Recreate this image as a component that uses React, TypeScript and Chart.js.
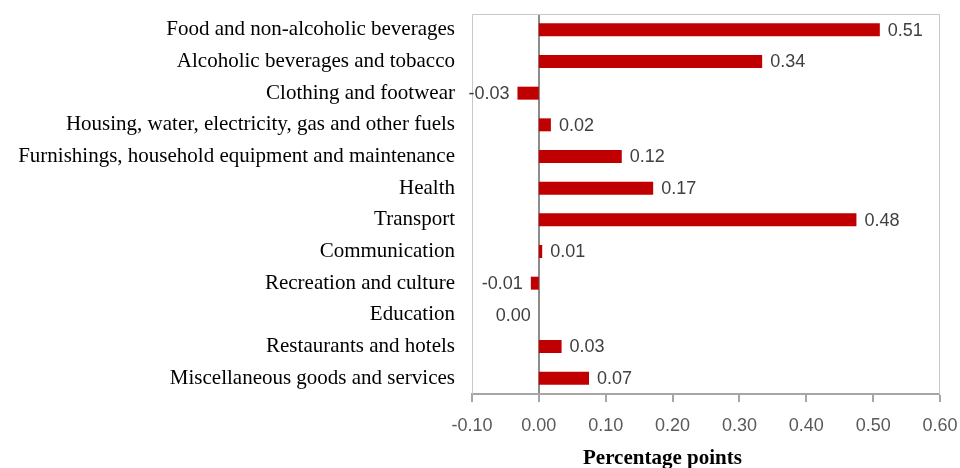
import React, { useEffect, useRef } from "react";
import { Chart, registerables } from "chart.js";

Chart.register(...registerables);

const categories = [
  "Food and non-alcoholic beverages",
  "Alcoholic beverages and tobacco",
  "Clothing and footwear",
  "Housing, water, electricity, gas and other fuels",
  "Furnishings, household equipment and maintenance",
  "Health",
  "Transport",
  "Communication",
  "Recreation and culture",
  "Education",
  "Restaurants and hotels",
  "Miscellaneous goods and services",
];
const contributions = [0.51, 0.334, -0.032, 0.018, 0.124, 0.171, 0.475, 0.005, -0.012, 0.0, 0.034, 0.075];
const valueLabels = ["0.51", "0.34", "-0.03", "0.02", "0.12", "0.17", "0.48", "0.01", "-0.01", "0.00", "0.03", "0.07"];
const xMin = -0.1;
const xMax = 0.6;
const xStep = 0.1;
const axisTitle = "Percentage points";

const SANS = "'Liberation Sans', Arial, sans-serif";
const SERIF = "'Liberation Serif', 'Times New Roman', serif";

const framePlugin = {
  id: "frame",
  beforeDatasetsDraw(chart: any) {
    const { ctx, chartArea } = chart;
    ctx.save();
    ctx.strokeStyle = "#c8c8c8";
    ctx.lineWidth = 1;
    ctx.beginPath();
    ctx.moveTo(chartArea.left + 0.5, chartArea.bottom);
    ctx.lineTo(chartArea.left + 0.5, chartArea.top + 0.5);
    ctx.lineTo(chartArea.right - 0.5, chartArea.top + 0.5);
    ctx.lineTo(chartArea.right - 0.5, chartArea.bottom);
    ctx.stroke();
    ctx.restore();
  },
};

const labelPlugin = {
  id: "valueLabels",
  afterDatasetsDraw(chart: any) {
    const { ctx } = chart;
    const meta = chart.getDatasetMeta(0);
    const xs = chart.scales.x;
    const zero = xs.getPixelForValue(0);
    ctx.save();
    ctx.font = `18px ${SANS}`;
    ctx.fillStyle = "#404040";
    ctx.textBaseline = "middle";
    meta.data.forEach((bar: any, i: number) => {
      const v = contributions[i];
      const y = bar.y + 1;
      if (v > 0) {
        ctx.textAlign = "left";
        ctx.fillText(valueLabels[i], bar.x + 8, y);
      } else {
        ctx.textAlign = "right";
        const edge = Math.min(bar.x, zero);
        ctx.fillText(valueLabels[i], edge - 8, y);
      }
    });
    // axis title
    ctx.font = `bold 21px ${SERIF}`;
    ctx.fillStyle = "#000000";
    ctx.textAlign = "center";
    ctx.textBaseline = "alphabetic";
    ctx.fillText(axisTitle, chart.width * 0.69, chart.height - 4);
    ctx.restore();
  },
};

export default function App() {
  const ref = useRef<HTMLCanvasElement>(null);
  useEffect(() => {
    document.body.style.margin = "0";
    const chart = new Chart(ref.current!, {
      type: "bar",
      data: {
        labels: categories,
        datasets: [
          {
            data: contributions,
            backgroundColor: "#c00000",
            borderWidth: 0,
            barPercentage: 0.41,
            categoryPercentage: 1,
          },
        ],
      },
      options: {
        indexAxis: "y",
        animation: false,
        responsive: false,
        maintainAspectRatio: false,
        layout: { padding: { top: 14, right: 20, left: 0, bottom: 0 } },
        plugins: { legend: { display: false }, tooltip: { enabled: false } },
        scales: {
          x: {
            min: xMin,
            max: xMax,
            afterFit: (s: any) => {
              s.height = 74;
              s.paddingLeft = 0;
              s.paddingRight = 0;
            },
            ticks: {
              stepSize: xStep,
              color: "#595959",
              font: { family: SANS, size: 18 },
              padding: 13,
              callback: (v: any) => {
                const n = Math.round(Number(v) * 100) / 100;
                return (Math.abs(n) < 1e-9 ? 0 : n).toFixed(2);
              },
            },
            grid: {
              drawOnChartArea: true,
              drawTicks: true,
              tickLength: 8,
              tickWidth: 2,
              tickColor: "#a6a6a6",
              color: (c: any) => (c.tick && Math.abs(c.tick.value) < 1e-9 ? "#8c8c8c" : "rgba(0,0,0,0)"),
              lineWidth: (c: any) => (c.tick && Math.abs(c.tick.value) < 1e-9 ? 2 : 0),
            },
            border: { display: true, color: "#a6a6a6", width: 2 },
          },
          y: {
            afterFit: (s: any) => {
              s.width = 472;
              s.paddingTop = 0;
              s.paddingBottom = 0;
            },
            ticks: {
              color: "#000000",
              font: { family: SERIF, size: 21 },
              padding: 17,
              autoSkip: false,
            },
            grid: { display: false, drawTicks: false },
            border: { display: false },
          },
        },
      },
      plugins: [framePlugin, labelPlugin],
    });
    return () => chart.destroy();
  }, []);
  return (
    <div style={{ position: "absolute", left: 0, top: 0, width: 960, height: 468, background: "#fff" }}>
      <canvas ref={ref} width={960} height={468} style={{ width: 960, height: 468 }} />
    </div>
  );
}
